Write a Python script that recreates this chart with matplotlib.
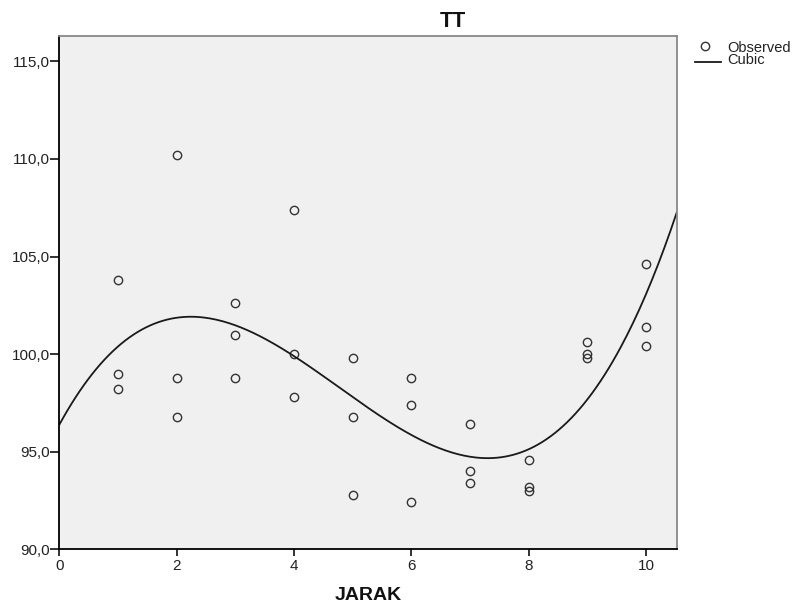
import numpy as np
import matplotlib
matplotlib.use("Agg")
import matplotlib.pyplot as plt
from matplotlib.ticker import FuncFormatter
from matplotlib.lines import Line2D

plt.rcParams['font.family'] = ['Liberation Sans', 'DejaVu Sans']

jarak = [1, 1, 1, 2, 2, 2, 3, 3, 3, 4, 4, 4, 5, 5, 5,
         6, 6, 6, 7, 7, 7, 8, 8, 8, 9, 9, 9, 10, 10, 10]
tt = [103.8, 99.0, 98.2, 110.2, 98.8, 96.8, 102.6, 101.0, 98.8,
      107.4, 100.0, 97.8, 99.8, 96.8, 92.8, 98.8, 97.4, 92.4,
      96.4, 94.0, 93.4, 94.6, 93.2, 93.0, 100.6, 100.0, 99.8,
      104.6, 101.4, 100.4]
x_ticks = [0, 2, 4, 6, 8, 10]
y_ticks = [90, 95, 100, 105, 110, 115]
legend_labels = ['Observed', 'Cubic']

x = np.array(jarak, dtype=float)
y = np.array(tt, dtype=float)
coef = np.polyfit(x, y, 3)
xs = np.linspace(0, 10.52, 300)
ys = np.polyval(coef, xs)

W, H = 798, 605
fig = plt.figure(figsize=(W / 100, H / 100), dpi=100)
ax = fig.add_axes([59.3 / W, (H - 549.3) / H, 617.4 / W, 513.3 / H])
ax.set_facecolor('#f0f0f0')

ax.plot(x, y, linestyle='none', marker='o', ms=6, mfc='none',
        mec='#333333', mew=1.0)
ax.plot(xs, ys, color='#1a1a1a', lw=1.3)

ax.set_xlim(0, 10.52)
ax.set_ylim(90, 116.3)
ax.set_xticks(x_ticks)
ax.set_yticks(y_ticks)
ax.yaxis.set_major_formatter(FuncFormatter(lambda v, p: f"{v:.1f}".replace('.', ',')))
ax.tick_params(axis='y', direction='out', length=6.5, width=1.3, pad=0.5,
               labelsize=11, colors='#222222')
ax.tick_params(axis='x', direction='out', length=5, width=1.3, pad=2,
               labelsize=11, colors='#222222')

for s in ['left', 'bottom']:
    ax.spines[s].set_color('black')
    ax.spines[s].set_linewidth(1.3)
for s in ['top', 'right']:
    ax.spines[s].set_color('#888888')
    ax.spines[s].set_linewidth(1.3)

# title
fig.text(452.5 / W, (H - 27) / H, 'TT', fontsize=15.5, ha='center', va='baseline',
         color='#111111', fontweight='semibold')
# x label
ax.set_xlabel('JARAK', fontsize=14, fontweight='bold', color='#111111')
ax.xaxis.set_label_coords(0.5008, (549.3 - 599.5) / 513.3)
ax.xaxis.label.set_va('baseline')

# legend (outside, top right)
fig.add_artist(Line2D([705 / W], [(H - 45.5) / H], marker='o', ms=6,
                      mfc='none', mec='#333333', mew=1.0, linestyle='none'))
fig.add_artist(Line2D([695 / W, 721 / W], [(H - 62) / H, (H - 62) / H],
                      color='#1a1a1a', lw=1.3))
fig.text(727 / W, (H - 51.5) / H, legend_labels[0], fontsize=10.5, va='baseline',
         color='#222222')
fig.text(727 / W, (H - 64) / H, legend_labels[1], fontsize=10.5, va='baseline',
         color='#222222')

fig.savefig('out.png', dpi=100)
